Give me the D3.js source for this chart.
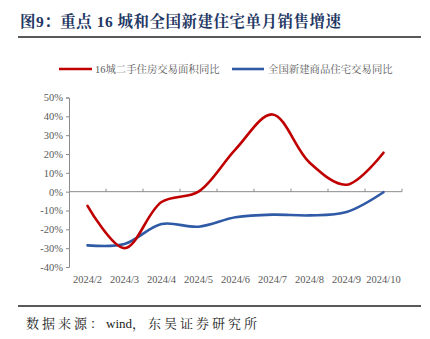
<!DOCTYPE html>
<html><head><meta charset="utf-8">
<script src="https://cdn.jsdelivr.net/npm/d3@7"></script>
<style>body{margin:0;background:#fff}svg{display:block}</style>
</head><body>
<script>
const categories = ["2024/2","2024/3","2024/4","2024/5","2024/6","2024/7","2024/8","2024/9","2024/10"];
const city16 = [-7.5, -30, -5.5, 0, 22.5, 41, 15.5, 3.7, 20.7];
const national = [-28.5, -27.8, -17.2, -18.6, -13.6, -12.2, -12.6, -10.8, -0.3];
const yTicks = [-40,-30,-20,-10,0,10,20,30,40,50];
const seriesNames = ["16城二手住房交易面积同比","全国新建商品住宅交易同比"];
const colors = ["#c00000","#2f5aa5"];

const W=430,H=339;
const svg=d3.select("body").append("svg").attr("width",W).attr("height",H);
const cjk = "'Liberation Serif','Noto Serif CJK SC','Noto Sans CJK SC',serif";

// title
svg.append("text").attr("x",20).attr("y",27).attr("fill","#1f3864")
  .attr("font-family",cjk).attr("font-weight","bold").attr("font-size",15.5).attr("letter-spacing",0.5)
  .text("图9：重点 16 城和全国新建住宅单月销售增速");
svg.append("line").attr("x1",18).attr("x2",421).attr("y1",37).attr("y2",37).attr("stroke","#222").attr("stroke-width",1.5);

const x=d3.scaleBand().domain(categories).range([69,402]);
const y=d3.scaleLinear().domain([-40,50]).range([267,97.5]);
const axisColor="#8c8c8c", labelColor="#595959";

// y axis
const ya=svg.append("g").attr("transform","translate(69,0)")
  .call(d3.axisLeft(y).tickValues(yTicks).tickSize(3).tickFormat(d=>d+"%"));
ya.select(".domain").attr("stroke",axisColor);
ya.selectAll(".tick line").attr("stroke",axisColor);
ya.selectAll(".tick text").attr("fill",labelColor).attr("font-family","'Liberation Serif',serif").attr("font-size",10.5).attr("x",-6);

// x axis at zero
const xa=svg.append("g").attr("transform",`translate(0,${y(0)})`);
xa.append("line").attr("x1",69).attr("x2",402).attr("stroke",axisColor);
xa.selectAll("line.t").data(categories).join("line").attr("class","t")
  .attr("x1",d=>x(d)+x.bandwidth()).attr("x2",d=>x(d)+x.bandwidth())
  .attr("y1",0).attr("y2",-3).attr("stroke",axisColor);
svg.append("g").selectAll("text").data(categories).join("text")
  .attr("x",d=>x(d)+x.bandwidth()/2).attr("y",283).attr("text-anchor","middle")
  .attr("fill",labelColor).attr("font-family","'Liberation Serif',serif").attr("font-size",10.5)
  .text(d=>d);

// lines
const line=d3.line().x((d,i)=>x(categories[i])+x.bandwidth()/2).y(d=>y(d)).curve(d3.curveCatmullRom.alpha(0.5));
[national, city16].forEach((s)=>{
  const ci = s===city16?0:1;
  svg.append("path").datum(s).attr("d",line).attr("fill","none")
    .attr("stroke",colors[ci]).attr("stroke-width",2.6).attr("stroke-linecap","round");
});

// legend
const leg=[{x1:59,x2:92,tx:95},{x1:232,x2:264,tx:268}];
leg.forEach((l,i)=>{
  svg.append("line").attr("x1",l.x1).attr("x2",l.x2).attr("y1",69).attr("y2",69).attr("stroke",colors[i]).attr("stroke-width",2.6);
  svg.append("text").attr("x",l.tx).attr("y",73).attr("fill",labelColor)
    .attr("font-family",cjk).attr("font-size",10.4).text(seriesNames[i]);
});

// footer
svg.append("line").attr("x1",18).attr("x2",421).attr("y1",306).attr("y2",306).attr("stroke","#222").attr("stroke-width",1.5);
const src=svg.append("text").attr("x",26).attr("y",328).attr("fill","#222")
  .attr("font-family",cjk).attr("font-size",13);
src.append("tspan").attr("letter-spacing",3).text("数据来源：");
src.append("tspan").text("wind");
src.append("tspan").attr("letter-spacing",3).text("，东吴证券研究所");
</script>
</body></html>
